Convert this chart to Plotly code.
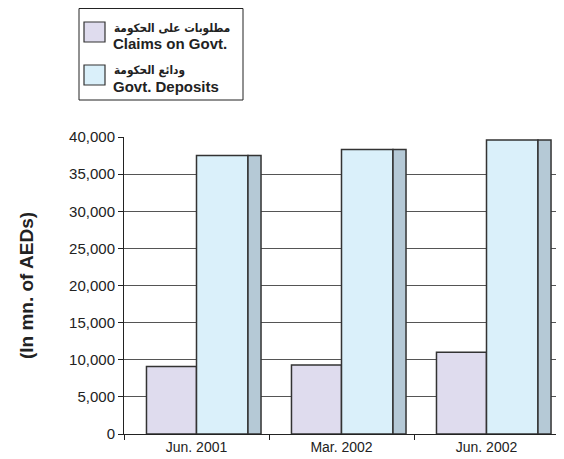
import plotly.graph_objects as go

categories = ["Jun. 2001", "Mar. 2002", "Jun. 2002"]
claims = [9100, 9300, 11000]
deposits = [37500, 38300, 39600]
claims_ar = "مطلوبات على الحكومة"
claims_en = "Claims on Govt."
deposits_ar = "ودائع الحكومة"
deposits_en = "Govt. Deposits"
y_ticks = [0, 5000, 10000, 15000, 20000, 25000, 30000, 35000, 40000]

# the page body has an 8px margin, so the figure is sized to fill the rest of the window
W, H = 556, 451
L, R, T, B = 116, 0, 129, 25
PW, PH = W - L - R, H - T - B
CAT_PX = 145.0


def px(x):
    return (x - L) / PW


def py(y):
    return (H - B - y) / PH


EDGE = "#333333"
C_CLAIMS = "#dfdcee"
C_DEP = "#daf0fa"
C_SIDE = "#b5c9d6"
TXT = "#222222"

fig = go.Figure()
fig.add_trace(go.Bar(x=categories, y=claims, name=claims_en, showlegend=False,
                     marker=dict(color=C_CLAIMS, line=dict(color=EDGE, width=1.5)),
                     offset=-0.345, width=0.345))
fig.add_trace(go.Bar(x=categories, y=deposits, name=deposits_en, showlegend=False,
                     marker=dict(color=C_DEP, line=dict(color=EDGE, width=1.5)),
                     offset=0.0, width=0.355))
fig.add_trace(go.Bar(x=categories, y=deposits, name="side", showlegend=False,
                     marker=dict(color=C_SIDE, line=dict(color=EDGE, width=1.5)),
                     offset=0.355, width=0.09, hoverinfo="skip"))

shapes = []
annotations = []
# legend box
shapes.append(dict(type="rect", xref="paper", yref="paper",
                   x0=px(71), x1=px(235), y0=py(92), y1=py(0.5),
                   line=dict(color=TXT, width=1), fillcolor="white", layer="above"))
legend_items = [(C_CLAIMS, claims_ar, claims_en, 14), (C_DEP, deposits_ar, deposits_en, 57)]
for color, ar, en, top in legend_items:
    shapes.append(dict(type="rect", xref="paper", yref="paper",
                       x0=px(76), x1=px(97), y0=py(top + 20), y1=py(top),
                       line=dict(color=EDGE, width=1.2), fillcolor=color, layer="above"))
    annotations.append(dict(xref="paper", yref="paper", x=px(104), y=py(top + 6),
                            xanchor="left", yanchor="middle", showarrow=False,
                            text="<b>" + ar + "</b>",
                            font=dict(family="DejaVu Sans Condensed, DejaVu Sans, sans-serif",
                                      size=11.7, color=TXT)))
    annotations.append(dict(xref="paper", yref="paper", x=px(103), y=py(top + 21),
                            xanchor="left", yanchor="middle", showarrow=False,
                            text="<b>" + en + "</b>",
                            font=dict(family="Liberation Sans, Arial, sans-serif", size=15, color=TXT)))

fig.update_layout(
    width=W, height=H,
    margin=dict(l=L, r=R, t=T, b=B, autoexpand=False),
    paper_bgcolor="white", plot_bgcolor="white",
    font=dict(family="Liberation Sans, Arial, sans-serif", size=14, color=TXT),
    barmode="overlay",
    showlegend=False,
    shapes=shapes,
    annotations=annotations,
    xaxis=dict(type="category", range=[-0.5, -0.5 + PW / CAT_PX], showline=True, linecolor=TXT,
               linewidth=1, ticks="outside", tickson="boundaries", ticklen=5, tickcolor=TXT,
               showgrid=False, tickfont=dict(size=14)),
    yaxis=dict(range=[0, 40000], tickvals=y_ticks, tickformat=",d",
               showline=True, linecolor=TXT, linewidth=1,
               ticks="outside", ticklen=5, tickcolor=TXT,
               showgrid=True, gridcolor="#555555", gridwidth=1.2, zeroline=False,
               title=dict(text="<b>(In mn. of AEDs)</b>", font=dict(size=19, color=TXT), standoff=30),
               tickfont=dict(size=15)),
)
fig.write_html("out.html")
